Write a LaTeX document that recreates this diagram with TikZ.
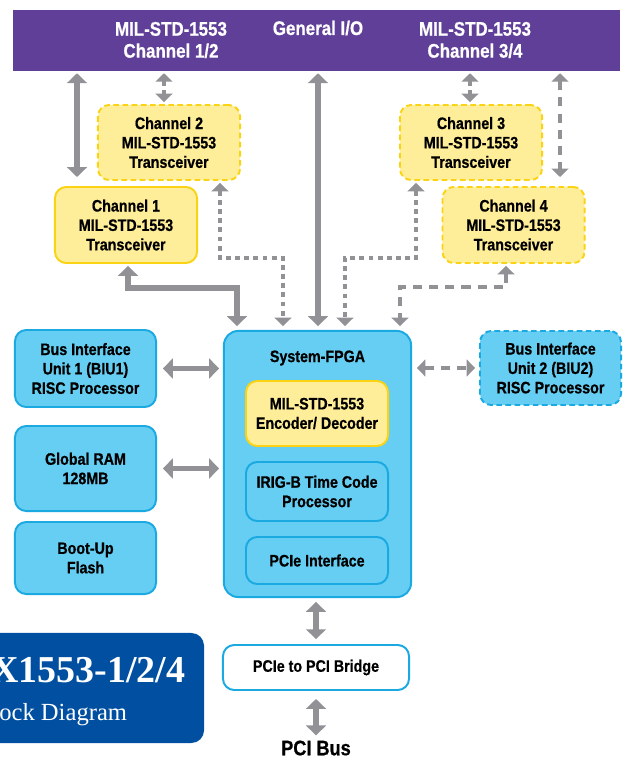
\documentclass[tikz,border=0pt]{standalone}
\usepackage{fontspec}
\setmainfont{Liberation Sans}[FakeStretch=0.86, BoldFeatures={FakeBold=0.6}]
\newfontfamily\titlefont{Liberation Serif}
\usetikzlibrary{arrows.meta}

\definecolor{busviolet}{RGB}{96,63,152}
\definecolor{xcvrfill}{RGB}{255,238,153}
\definecolor{xcvrline}{RGB}{250,212,20}
\definecolor{unitfill}{RGB}{102,206,242}
\definecolor{unitline}{RGB}{27,169,225}
\definecolor{linkgray}{RGB}{145,145,150}
\definecolor{titleblue}{RGB}{0,79,160}

\tikzset{
  box/.style={rounded corners=8pt, line width=1.4pt, inner sep=0pt, align=center,
    font=\bfseries\fontsize{11.8}{13.8}\selectfont},
  xcvr/.style={box, fill=xcvrfill, draw=xcvrline},
  xcvrdash/.style={xcvr, dash pattern=on 4pt off 2.5pt},
  unit/.style={box, fill=unitfill, draw=unitline},
  unitdash/.style={unit, dash pattern=on 4pt off 2.5pt},
  bartext/.style={text=white, align=center, font=\bfseries\fontsize{14}{15.6}\selectfont},
  link/.style={draw=linkgray, line width=4.2pt,
    {Triangle[width=14pt,length=7pt]}-{Triangle[width=14pt,length=7pt]}},
  dotlink/.style={draw=linkgray, line width=2.8pt, dash pattern=on 3.5pt off 3pt,
    {Triangle[width=12pt,length=6pt]}-{Triangle[width=12pt,length=6pt]}},
  dashlink/.style={dotlink, dash pattern=on 6.5pt off 5pt},
}

\begin{document}
\begin{tikzpicture}[x=0.025cm, y=-0.025cm]

    \clip (0, 0) rectangle (629, 760);

    \node[fill=busviolet, inner sep=0pt, minimum width=15.175cm, minimum height=1.525cm] (bar) at (316.5, 40.5) {};
    \node[bartext] (bus12) at (171, 40) {MIL-STD-1553\\Channel 1/2};
    \node[bartext, anchor=base] (gpio) at (318, 35) {General I/O};
    \node[bartext] (bus34) at (475, 40) {MIL-STD-1553\\Channel 3/4};

    \node[xcvrdash, minimum width=3.55cm, minimum height=1.875cm] (ch2) at (169, 142.5) {Channel 2\\MIL-STD-1553\\Transceiver};
    \node[xcvr, minimum width=3.55cm, minimum height=1.9cm] (ch1) at (126, 225) {Channel 1\\MIL-STD-1553\\Transceiver};
    \node[xcvrdash, minimum width=3.55cm, minimum height=1.875cm] (ch3) at (471, 142.5) {Channel 3\\MIL-STD-1553\\Transceiver};
    \node[xcvrdash, minimum width=3.55cm, minimum height=1.9cm] (ch4) at (513.5, 225) {Channel 4\\MIL-STD-1553\\Transceiver};

    \node[unit, minimum width=4.675cm, minimum height=6.65cm, rounded corners=10pt] (fpga) at (317.5, 464) {};
    \node[box, draw=none] (fpganame) at (317.5, 358) {System-FPGA};
    \node[xcvr, minimum width=3.55cm, minimum height=1.625cm] (enc) at (317, 413.5) {MIL-STD-1553\\Encoder/ Decoder};
    \node[unit, minimum width=3.55cm, minimum height=1.475cm] (irig) at (317, 491.5) {IRIG-B Time Code\\Processor};
    \node[unit, minimum width=3.55cm, minimum height=1.175cm] (pcie) at (317, 560.5) {PCIe Interface};

    \node[unit, minimum width=3.525cm, minimum height=1.925cm] (biu1) at (85.5, 368.5) {Bus Interface\\Unit 1 (BIU1)\\RISC Processor};
    \node[unit, minimum width=3.525cm, minimum height=2.125cm] (ram) at (85.5, 468.5) {Global RAM\\128MB};
    \node[unit, minimum width=3.525cm, minimum height=1.8cm] (flash) at (85.5, 558) {Boot-Up\\Flash};
    \node[unitdash, minimum width=3.525cm, minimum height=1.85cm] (biu2) at (550.5, 368) {Bus Interface\\Unit 2 (BIU2)\\RISC Processor};

    \node[box, fill=white, draw=unitline, minimum width=4.65cm, minimum height=1.125cm] (bridge) at (316, 667.5) {PCIe to PCI Bridge};
    \node[font=\bfseries\fontsize{15}{18}\selectfont, inner sep=0pt] (pcibus) at (316, 748) {PCI Bus};

    \node[fill=titleblue, rounded corners=9pt, minimum width=5.6cm, minimum height=2.75cm] (titlebox) at (92, 688) {};
    \node[anchor=base west, text=white, inner sep=0pt, font=\titlefont\bfseries\fontsize{27}{30}\selectfont] (model) at (-9, 682) {X1553-1/2/4};
    \node[anchor=base west, text=white, inner sep=0pt, font=\titlefont\fontsize{17.5}{20}\selectfont] (kind) at (-1, 720) {ock Diagram};

    \coordinate (laneA) at (77, 0);
    \coordinate (laneB) at (164, 0);
    \coordinate (laneC) at (470, 0);
    \coordinate (laneD) at (560, 0);
    \coordinate (laneE) at (318, 0);
    \coordinate (c1) at (128, 0);
    \coordinate (c1bend) at (237, 288);
    \coordinate (c2) at (220, 0);
    \coordinate (c2bend) at (283, 258);
    \coordinate (c3) at (416, 0);
    \coordinate (c3bend) at (345, 258);
    \coordinate (c4) at (506, 0);
    \coordinate (c4bend) at (400, 287);

    \draw[link, shorten <=1.4pt, shorten >=6.4pt] (bar.south -| laneA) -- (ch1.north -| laneA);
    \draw[dotlink, shorten <=1.4pt, shorten >=1.4pt] (bar.south -| laneB) -- (ch2.north -| laneB);
    \draw[dotlink, shorten <=1.4pt, shorten >=1.4pt] (bar.south -| laneC) -- (ch3.north -| laneC);
    \draw[dashlink, shorten <=1.4pt, shorten >=6.4pt] (bar.south -| laneD) -- (ch4.north -| laneD);
    \draw[link, shorten <=1.4pt, shorten >=2.8pt] (bar.south -| laneE) -- (fpga.north -| laneE);

    \draw[link, shorten <=1.4pt, shorten >=2.8pt] (ch1.south -| c1) |- (c1bend) -- (fpga.north -| c1bend);
    \draw[dotlink, shorten <=1.4pt, shorten >=2.8pt] (ch2.south -| c2) |- (c2bend) -- (fpga.north -| c2bend);
    \draw[dotlink, shorten <=1.4pt, shorten >=2.8pt] (ch3.south -| c3) |- (c3bend) -- (fpga.north -| c3bend);
    \draw[dashlink, shorten <=1.4pt, shorten >=2.8pt] (ch4.south -| c4) |- (c4bend) -- (fpga.north -| c4bend);

    \draw[link, shorten <=4.2pt, shorten >=2.8pt] (biu1.east) -- (fpga.west |- biu1.east);
    \draw[link, shorten <=4.2pt, shorten >=2.8pt] (ram.east) -- (fpga.west |- ram.east);
    \draw[dashlink, shorten <=3.5pt, shorten >=2.8pt] (fpga.east |- biu2.west) -- (biu2.west);
    \draw[link, shorten <=2.8pt, shorten >=3.5pt] (fpga.south -| bridge.north) -- (bridge.north);
    \draw[link, shorten <=5.7pt, shorten >=3.5pt] (bridge.south) -- (pcibus.north);
\end{tikzpicture}
\end{document}
